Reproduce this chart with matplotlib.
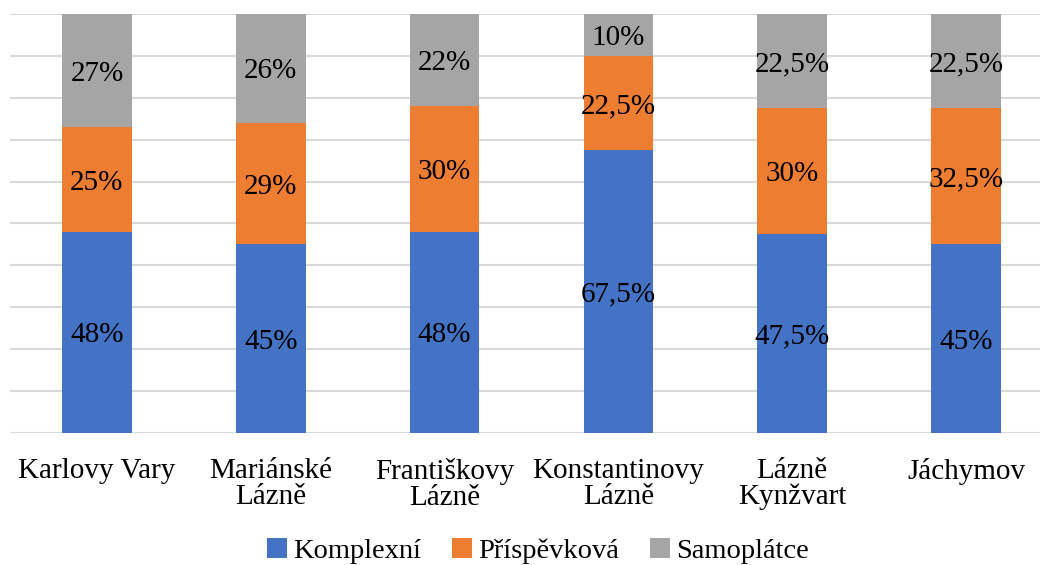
import numpy as np
import matplotlib.pyplot as plt

plt.rcParams['font.family'] = ['Liberation Serif', 'DejaVu Serif']

towns = ['Karlovy Vary', 'Mariánské\nLázně', 'Františkovy\nLázně',
         'Konstantinovy\nLázně', 'Lázně\nKynžvart', 'Jáchymov']
komplexni = [48, 45, 48, 67.5, 47.5, 45]
prispevkova = [25, 29, 30, 22.5, 30, 32.5]
samoplatce = [27, 26, 22, 10, 22.5, 22.5]
komplexni_lbl = ['48%', '45%', '48%', '67,5%', '47,5%', '45%']
prispevkova_lbl = ['25%', '29%', '30%', '22,5%', '30%', '32,5%']
samoplatce_lbl = ['27%', '26%', '22%', '10%', '22,5%', '22,5%']

colors = ['#4472C4', '#ED7D31', '#A5A5A5']

fig = plt.figure(figsize=(10.4, 5.65), dpi=100)
ax = fig.add_axes([10 / 1040, 1 - 433 / 565, 1043 / 1040, 419 / 565])

x = np.arange(len(towns))
w = 0.40
bottom = np.zeros(len(towns))
series = [(komplexni, komplexni_lbl, 'Komplexní'),
          (prispevkova, prispevkova_lbl, 'Příspěvková'),
          (samoplatce, samoplatce_lbl, 'Samoplátce')]
for (vals, lbls, name), c in zip(series, colors):
    vals = np.array(vals, dtype=float)
    ax.bar(x, vals, w, bottom=bottom, color=c, label=name, zorder=2)
    for xi, b, v, t in zip(x, bottom, vals, lbls):
        ax.text(xi, b + v / 2, t, ha='center', va='center_baseline',
                fontsize=21, zorder=3)
    bottom += vals

ax.set_xlim(-0.5, 5.5)
ax.set_ylim(0, 100)
ax.set_yticks(np.arange(0, 101, 10))
ax.set_yticklabels([])
ax.yaxis.grid(True, color='#d9d9d9', linewidth=1.5, zorder=0)
ax.tick_params(axis='both', length=0)
for s in ax.spines.values():
    s.set_visible(False)
ax.set_xticks(x)
ax.set_xticklabels(towns, fontsize=21, linespacing=1.0)
ax.tick_params(axis='x', pad=18)

fig.legend(loc='center', bbox_to_anchor=(538 / 1040, 1 - 551 / 565), ncol=3,
           frameon=False, fontsize=20.5, handlelength=0.7, handleheight=0.7,
           handletextpad=0.2, columnspacing=1.1, borderpad=0.2)

fig.savefig('out.png', dpi=100)
